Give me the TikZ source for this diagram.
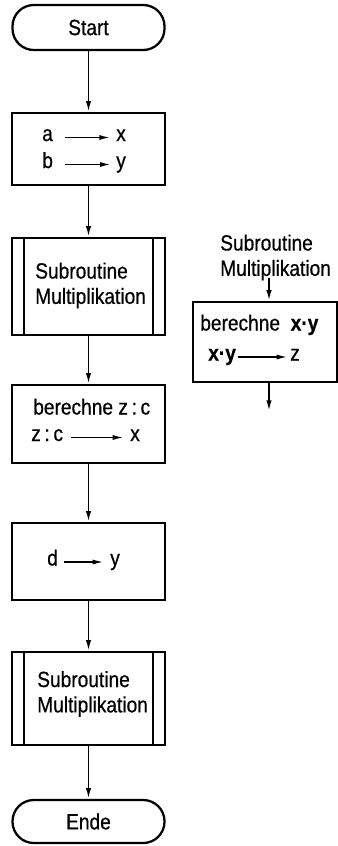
\documentclass[tikz,border=0pt]{standalone}
\usepackage{fontspec}
\setmainfont{Liberation Sans}[FakeStretch=0.87,FakeBold=0.6]
\usetikzlibrary{arrows.meta}

\begin{document}
\begin{tikzpicture}[x=0.75pt,y=-0.75pt,
  term/.style={draw,line width=1.7pt,rounded corners=16pt,minimum width=114pt,font=\fontsize{16.5}{18}\selectfont},
  proc/.style={draw,line width=1.7pt,minimum width=114.75pt},
  txt/.style={inner sep=0pt,anchor=west,text height=1ex,text depth=0pt,font=\fontsize{16.5}{18}\selectfont},
  lbl/.style={inner sep=0pt,anchor=west,align=left,font=\fontsize{16.5}{19}\selectfont},
  flow/.style={line width=1.3pt,-{Latex[length=8pt,width=4pt]}},
  move/.style={line width=1.1pt,-{Latex[length=8pt,width=3.8pt]}}]
\useasboundingbox (0,0) rectangle (338,846);

\node[term,minimum height=33.75pt] (start)       at (88.5,27.5)  {Start};
\node[proc,minimum height=54pt]    (assignXY)    at (88.5,149)   {};
\node[proc,minimum height=72.75pt] (callMultOne) at (88.5,286.5) {};
\node[proc,minimum height=58.5pt]  (divideZ)     at (88.5,424)   {};
\node[proc,minimum height=57.75pt] (assignY)     at (88.5,561.5) {};
\node[proc,minimum height=69.75pt] (callMultTwo) at (88.5,698.5) {};
\node[term,minimum height=32.25pt] (ende)        at (88.5,821.5) {Ende};

\node[txt] (varA)  at (42,137.5) {a};
\node[txt] (varX)  at (116,137.5) {x};
\node[txt] (varB)  at (42,164.5) {b};
\node[txt] (varY)  at (116,164.5) {y};
\node[lbl] (multOneText) at (35,285.5) {Subroutine\\Multiplikation};
\node[txt] (divText)  at (33,411) {berechne z\,:\,c};
\node[txt] (quot)     at (31,437.5) {z\,:\,c};
\node[txt] (varXTwo)  at (130,437.5) {x};
\node[txt] (varD)     at (47,562) {d};
\node[txt] (varYTwo)  at (110,562) {y};
\node[lbl] (multTwoText) at (37,694) {Subroutine\\Multiplikation};

\node[lbl] (subHead)  at (220,257.5) {Subroutine\\Multiplikation};
\node[draw,line width=1.7pt,minimum width=108pt,minimum height=60pt] (subBody) at (265,342) {};
\node[txt] (subText)  at (200,327) {berechne~~\textbf{x·y}};
\node[txt] (prod)     at (208,357) {\textbf{x·y}};
\node[txt] (varZ)     at (290,357) {z};
\coordinate (subIn)  at (269,278);
\coordinate (subOut) at (269,411);

\draw[line width=1.2pt] ([xshift=10pt]callMultOne.north west) -- ([xshift=10pt]callMultOne.south west);
\draw[line width=1.2pt] ([xshift=-10pt]callMultOne.north east) -- ([xshift=-10pt]callMultOne.south east);
\draw[line width=1.2pt] ([xshift=10pt]callMultTwo.north west) -- ([xshift=10pt]callMultTwo.south west);
\draw[line width=1.2pt] ([xshift=-10pt]callMultTwo.north east) -- ([xshift=-10pt]callMultTwo.south east);

\draw[flow] (start) -- (assignXY);
\draw[flow] (assignXY) -- (callMultOne);
\draw[flow] (callMultOne) -- (divideZ);
\draw[flow] (divideZ) -- (assignY);
\draw[flow] (assignY) -- (callMultTwo);
\draw[flow] (callMultTwo) -- (ende);
\draw[flow] (subIn) -- (subIn |- subBody.north);
\draw[flow] (subIn |- subBody.south) -- (subOut);

\draw[move,shorten <=9pt,shorten >=4.5pt] (varA) -- (varX);
\draw[move,shorten <=9pt,shorten >=4pt] (varB) -- (varY);
\draw[move,shorten <=6pt,shorten >=5pt] (quot) -- (varXTwo);
\draw[move,shorten <=4.5pt,shorten >=5pt] (varD) -- (varYTwo);
\draw[move,shorten <=1pt,shorten >=2pt] (prod) -- (varZ);
\end{tikzpicture}
\end{document}
